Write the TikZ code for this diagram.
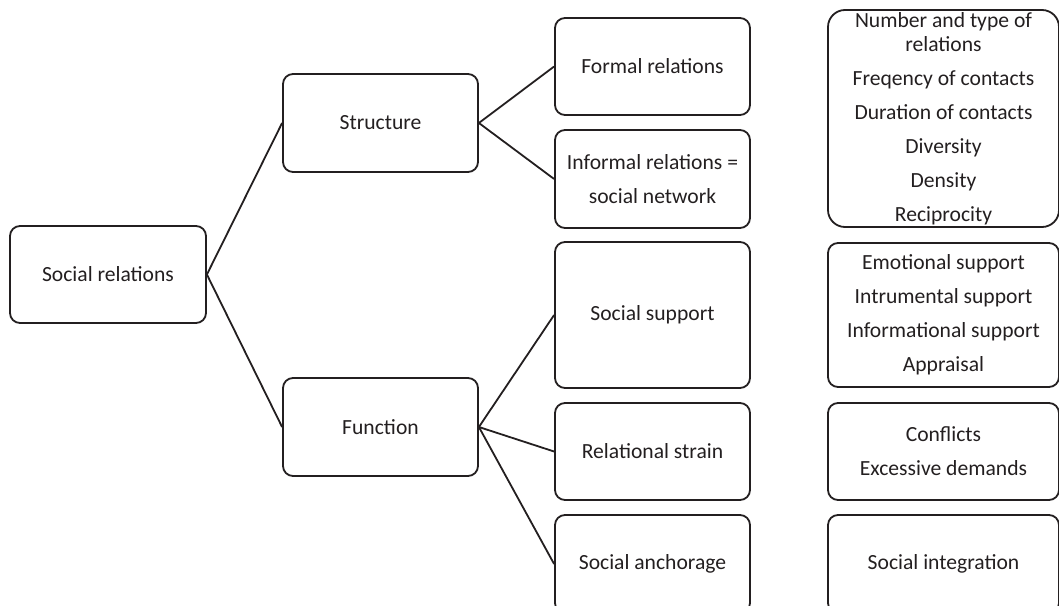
\documentclass[tikz,border=0pt]{standalone}
\usepackage{fontspec}
\setmainfont{Carlito}
\definecolor{ink}{HTML}{231F20}

\begin{document}
\begin{tikzpicture}[x=1pt,y=-1pt,
    box/.style={draw=ink,text=ink,line width=1.8pt,rounded corners=10pt,
      minimum width=195pt,minimum height=98pt,align=center,inner sep=0pt},
    listbox/.style={box,minimum width=231pt},
    link/.style={draw=ink,line width=1.8pt},
    font=\fontsize{21.6}{24.5}\selectfont]
                    \useasboundingbox (0,0) rectangle (1059,605);
                    \clip (0,0) rectangle (1059,605);

                    \node[box,minimum width=196pt,minimum height=97pt] (social) at (108,274.5) {Social relations};

                    \node[box] (structure) at (380.5,123) {Structure};
                    \node[box] (function) at (380.5,427) {Function};

                    \node[box,minimum height=97pt] (formal) at (652.5,66.5) {Formal relations};
                    \node[box] (informal) at (652.5,179) {Informal relations =\\[9.5pt]social network};
                    \node[box,minimum height=146pt] (support) at (652.5,315) {Social support};
                    \node[box,minimum height=97pt] (strain) at (652.5,451.5) {Relational strain};
                    \node[box] (anchorage) at (652.5,564) {Social anchorage};

                    \node[listbox,minimum height=217pt,rounded corners=17pt] (indicators) at (943.5,118.5)
                        {Number and type of\\relations\\[9.5pt]Freqency of contacts\\[9.5pt]Duration of contacts\\[9.5pt]Diversity\\[9.5pt]Density\\[9.5pt]Reciprocity};
                    \node[listbox,minimum height=144pt] (supporttypes) at (943.5,315)
                        {Emotional support\\[9.5pt]Intrumental support\\[9.5pt]Informational support\\[9.5pt]Appraisal};
                    \node[listbox,minimum height=97pt] (straintypes) at (943.5,451.5) {Conflicts\\[9.5pt]Excessive demands};
                    \node[listbox] (integration) at (943.5,564) {Social integration};

                    \draw[link] (social.east) -- (structure.west);
                    \draw[link] (social.east) -- (function.west);
                    \draw[link] (structure.east) -- (formal.west);
                    \draw[link] (structure.east) -- (informal.west);
                    \draw[link] (function.east) -- (support.west);
                    \draw[link] (function.east) -- (strain.west);
                    \draw[link] (function.east) -- (anchorage.west);
                \end{tikzpicture}
\end{document}
